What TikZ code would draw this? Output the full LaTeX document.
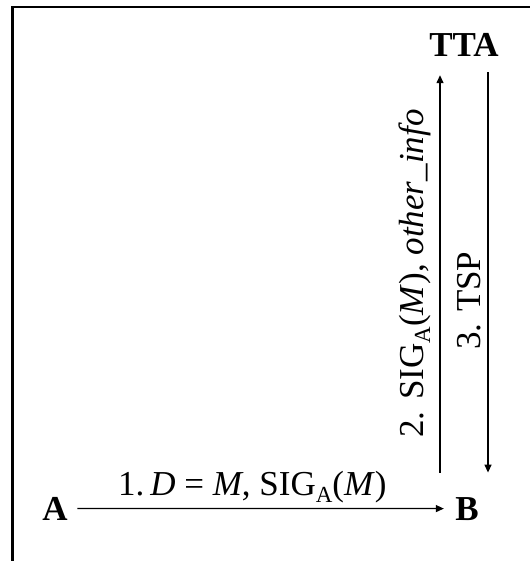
\documentclass[tikz,border=0pt]{standalone}
\usepackage{fontspec}
\setmainfont{Liberation Serif}
\usetikzlibrary{arrows.meta}
\newcommand{\sbA}{\raisebox{-7pt}{\fontsize{23}{23}\selectfont A}}
\begin{document}
\begin{tikzpicture}[x=1pt,y=-1pt,
  every node/.style={inner sep=0pt,font=\fontsize{35}{40}\selectfont},
  party/.style={font=\fontsize{35}{40}\selectfont\bfseries,anchor=base},
  lbl/.style={anchor=base west},
  arr/.style={line width=1.3pt,-{Triangle[length=8pt,width=7pt]}}]
\useasboundingbox (0,0) rectangle (529,561);
\draw[line width=2.2pt] (12.5,562) -- (12.5,7) -- (530,7);
\node[party] (A) at (55,520) {A};
\node[party] (B) at (467,520) {B};
\node[party] (T) at (464,57) {TTA};
\coordinate (L2) at (440,0);
\coordinate (L3) at (488,0);
\draw[arr,shorten <=9.5pt,shorten >=11.3pt] (A.east) -- (B.west);
\draw[arr,shorten <=24.3pt,shorten >=18pt] (B.north -| L2) -- (T.south -| L2);
\draw[arr,shorten <=15pt,shorten >=24.3pt] (T.south -| L3) -- (B.north -| L3);
\node[lbl] (m1) at (118,495) {1.\,\textit{D} = \textit{M}, SIG\sbA(\textit{M})};
\node[lbl,rotate=90] (m2) at (423,438) {2. SIG\sbA(\textit{M}), \textit{other\_info}};
\node[lbl,rotate=90] (m3) at (480,350) {3. TSP};
\end{tikzpicture}
\end{document}
